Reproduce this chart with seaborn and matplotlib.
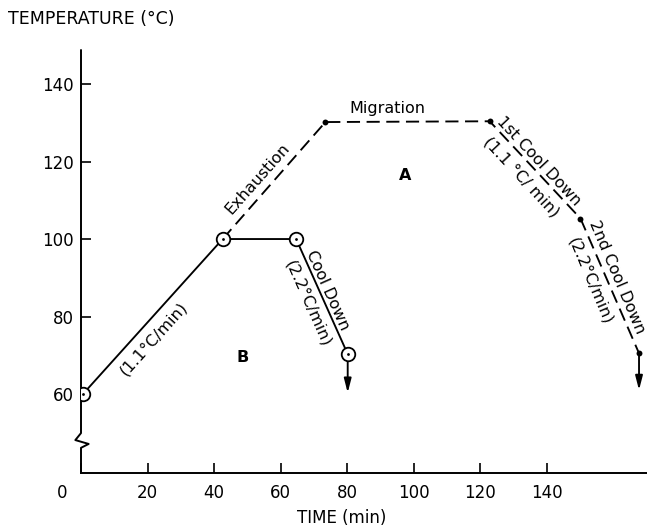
import matplotlib
matplotlib.use("Agg")
import matplotlib.pyplot as plt
import pandas as pd
import seaborn as sns
from matplotlib.transforms import ScaledTranslation

sns.set_theme(style="white")
plt.rcParams["font.family"] = ["DejaVu Sans"]
plt.rcParams["text.color"] = "black"

# Process B: heat up then cool down (solid path)
b_time = [0.6, 42.6, 64.7, 80.2]
b_temp = [60, 100, 100, 70.3]
b_arrow_end = 60.3

# Process A: exhaustion, migration and two cool-down stages (dashed path)
a_time = [42.6, 73.5, 122.9, 150.2, 167.8]
a_temp = [100, 130.2, 130.4, 105.3, 70.5]
a_arrow_end = 61.0

x_ticks = [0, 20, 40, 60, 80, 100, 120, 140]
y_ticks = [60, 80, 100, 120, 140]

df_b = pd.DataFrame({"time": b_time, "temp": b_temp})
df_a = pd.DataFrame({"time": a_time, "temp": a_temp})

fig = plt.figure(figsize=(6.47, 5.28), dpi=100)
ax = fig.add_axes([81 / 647, 1 - 473 / 528, (647 - 81) / 647, (473 - 50) / 528])
ax.set_xlim(0, 170.2)
ax.set_ylim(39.6, 148.8)

lw = 1.35
sns.lineplot(data=df_b, x="time", y="temp", sort=False, estimator=None,
             color="black", lw=lw, ax=ax, zorder=3)
sns.lineplot(data=df_a, x="time", y="temp", sort=False, estimator=None,
             color="black", lw=lw, linestyle=(0, (7, 3.5)), ax=ax, zorder=3)

# open circles with centre dot on the solid path
sns.scatterplot(data=df_b, x="time", y="temp", s=95, facecolor="white",
                edgecolor="black", linewidth=1.3, ax=ax, zorder=5)
sns.scatterplot(data=df_b, x="time", y="temp", s=4, color="black",
                linewidth=0, ax=ax, zorder=6)
# small filled dots on the dashed path
sns.scatterplot(data=df_a.iloc[1:], x="time", y="temp", s=18, color="black",
                linewidth=0, ax=ax, zorder=5)

arrow = dict(arrowstyle="-|>,head_length=0.7,head_width=0.18", color="black",
             lw=lw, shrinkA=0, shrinkB=0)
ax.annotate("", xy=(b_time[-1], b_arrow_end), xytext=(b_time[-1], b_temp[-1]),
            arrowprops=arrow, zorder=4)
ax.annotate("", xy=(a_time[-1], a_arrow_end), xytext=(a_time[-1], a_temp[-1]),
            arrowprops=arrow, zorder=4)

# axes: hidden frame, hand-drawn y axis with a break
for s in ["top", "right", "left"]:
    ax.spines[s].set_visible(False)
ax.spines["bottom"].set_linewidth(1.4)
ax.spines["bottom"].set_color("black")
ax.plot([0, 0, -1.7, 2.3, 0, 0], [148.8, 49.9, 48.1, 47.1, 46.1, 39.6],
        color="black", lw=1.4, clip_on=False, zorder=2)

ax.set_xticks(x_ticks)
ax.set_yticks(y_ticks)
ax.set_xticklabels([str(v) for v in x_ticks])
ax.set_yticklabels([str(v) for v in y_ticks])
ax.tick_params(axis="both", direction="in", length=7, width=1.2, color="black",
               labelsize=12, labelcolor="black")
ax.tick_params(axis="x", pad=8, bottom=True)
ax.tick_params(axis="y", pad=5, left=True)
ax.set_xlabel("")
ax.set_ylabel("")
# the origin label sits left of the axis
lab0 = ax.get_xticklabels()[0]
lab0.set_transform(lab0.get_transform() + ScaledTranslation(-0.19, 0, fig.dpi_scale_trans))

fs = 11.5
ax.text(21.8, 74.2, "(1.1°C/min)", rotation=48, ha="center", va="center",
        fontsize=fs, rotation_mode="anchor")
ax.text(53.1, 115.5, "Exhaustion", rotation=48.5, ha="center", va="center",
        fontsize=fs, rotation_mode="anchor")
ax.text(92.2, 133.6, "Migration", ha="center", va="center", fontsize=fs)
ax.text(97.6, 116.5, "A", ha="center", va="center", fontsize=fs, fontweight="bold")
ax.text(48.6, 69.5, "B", ha="center", va="center", fontsize=fs, fontweight="bold")
ax.text(74.1, 86.8, "Cool Down", rotation=-66, ha="center", va="center",
        fontsize=fs, rotation_mode="anchor")
ax.text(68.1, 83.4, "(2.2°C/min)", rotation=-66, ha="center", va="center",
        fontsize=fs, rotation_mode="anchor")
ax.text(137.6, 120.1, "1st Cool Down", rotation=-47, ha="center", va="center",
        fontsize=fs, rotation_mode="anchor")
ax.text(132.5, 116.0, "(1.1 °C/ min)", rotation=-47, ha="center", va="center",
        fontsize=fs, rotation_mode="anchor")
ax.text(161.1, 90.2, "2nd Cool Down", rotation=-67, ha="center", va="center",
        fontsize=fs, rotation_mode="anchor")
ax.text(153.2, 89.2, "(2.2°C/min)", rotation=-67, ha="center", va="center",
        fontsize=fs, rotation_mode="anchor")

fig.text(8 / 647, 1 - 19 / 528, "TEMPERATURE (°C)", ha="left", va="center",
         fontsize=12.5)
fig.text(342 / 647, 1 - 518 / 528, "TIME (min)", ha="center", va="center",
         fontsize=12)

fig.savefig("out.png", dpi=100, facecolor="white")
